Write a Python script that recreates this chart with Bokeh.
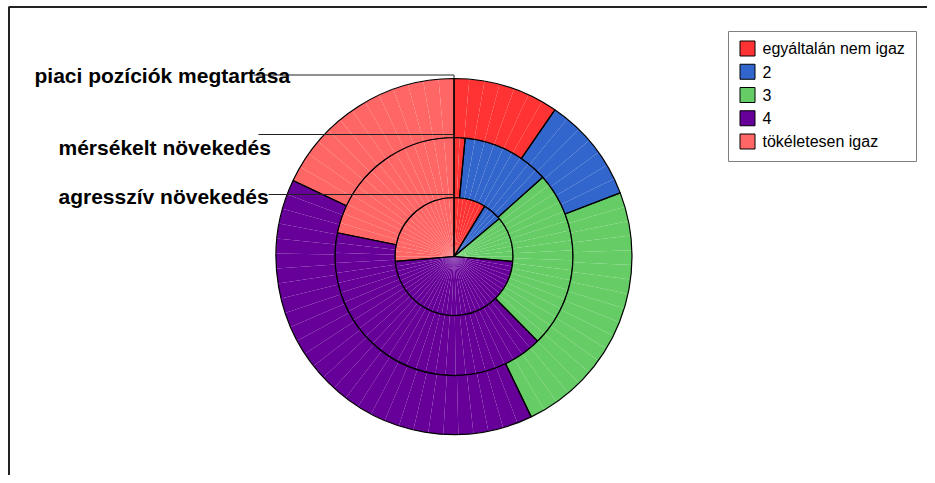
import numpy as np
from bokeh.plotting import figure
from bokeh.models import Range1d, ColumnDataSource
from bokeh.core.properties import value
from bokeh.embed import file_html
from bokeh.resources import INLINE

# ---- data ----
categories = ["egyáltalán nem igaz", "2", "3", "4", "tökéletesen igaz"]
colors = ["#FF3333", "#3366CC", "#66CC66", "#660099", "#FF6666"]
ring_labels = ["agresszív növekedés", "mérsékelt növekedés", "piaci pozíciók megtartása"]
agressziv = [8.7, 5.2, 12.4, 47.3, 26.3]
merseklet = [1.5, 11.9, 24.2, 40.6, 21.8]
piaci = [9.6, 9.6, 23.7, 39.2, 18.0]
series = [agressziv, merseklet, piaci]

W, H = 927, 475
p = figure(width=W, height=H, output_backend="svg", toolbar_location=None,
           x_range=Range1d(0, W), y_range=Range1d(0, H),
           min_border=0, outline_line_color=None)
p.axis.visible = False
p.grid.visible = False
p.background_fill_color = "white"

def py(img_y):
    return H - img_y

cx, cy = 453.5, py(256)
radii = [0, 59, 119, 178]

for ri, vals in enumerate(series):
    v = np.array(vals, dtype=float)
    frac = v / v.sum()
    ends = np.cumsum(frac)
    starts = ends - frac
    sa, ea, fc = [], [], []
    for k in range(len(v)):
        a0 = np.pi / 2 - ends[k] * 2 * np.pi
        a1 = np.pi / 2 - starts[k] * 2 * np.pi
        n = max(1, int(np.ceil((a1 - a0) / np.radians(5))))
        edges = np.linspace(a0, a1, n + 1)
        for j in range(n):
            sa.append(edges[j]); ea.append(edges[j + 1]); fc.append(colors[k])
    src = ColumnDataSource(dict(sa=sa, ea=ea, fc=fc))
    p.annular_wedge(x=cx, y=cy, inner_radius=radii[ri], outer_radius=radii[ri + 1],
                    start_angle="sa", end_angle="ea", fill_color="fc",
                    line_alpha=0.0, source=src)
    src2 = ColumnDataSource(dict(sa=list(np.pi / 2 - ends * 2 * np.pi),
                                 ea=list(np.pi / 2 - starts * 2 * np.pi)))
    p.annular_wedge(x=cx, y=cy, inner_radius=radii[ri], outer_radius=radii[ri + 1],
                    start_angle="sa", end_angle="ea", fill_alpha=0,
                    line_color="black", line_width=1.2, source=src2)

# leader lines and labels
label_x = [58, 58, 34]
label_base = [196, 147, 75]
line_y = [194, 134, 74.5]
line_x0 = [268, 258, 253]
for i in range(3):
    p.segment(x0=line_x0[i], y0=py(line_y[i]), x1=cx, y1=py(line_y[i]),
              line_color="#222222", line_width=1)
    p.segment(x0=cx, y0=py(line_y[i]), x1=cx, y1=cy + radii[i + 1],
              line_color="#222222", line_width=1)
p.text(x=label_x, y=[py(b) for b in label_base], text=ring_labels,
       text_font=value("Liberation Sans"), text_font_style="bold",
       text_font_size="21px", text_color="black",
       text_align="left", text_baseline="alphabetic")

# legend
p.rect(x=822, y=py(96), width=188, height=130, fill_color="white",
       line_color="#808080", line_width=1)
rows = [py(48 + i * 23.25) for i in range(len(categories))]
p.rect(x=[747] * len(categories), y=rows, width=15, height=15,
       fill_color=colors, line_color="black", line_width=1)
p.text(x=[762] * len(categories), y=rows, text=categories,
       text_font=value("Liberation Sans"), text_font_size="16px",
       text_color="black", text_align="left", text_baseline="middle")

# frame (left and top edges visible)
p.segment(x0=[8.5, 8], y0=[0, py(6.5)], x1=[8.5, W], y1=[py(6.5), py(6.5)],
          line_color="#222222", line_width=2)

open("out.html", "w").write(file_html(p, INLINE))
